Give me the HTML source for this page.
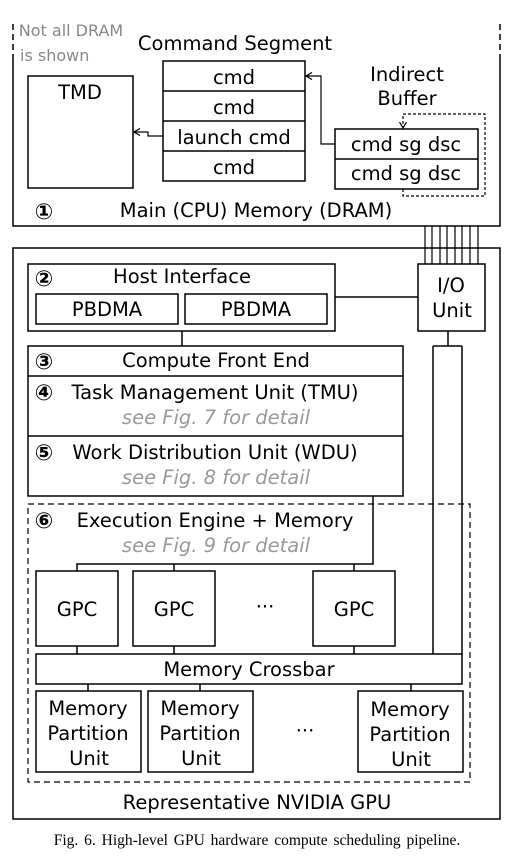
<!DOCTYPE html>
<html><head><style>body{margin:0;background:#fff}svg{display:block}</style></head><body>
<svg width="524" height="856" viewBox="0 0 524 856" xmlns="http://www.w3.org/2000/svg" font-family="DejaVu Sans, sans-serif" font-size="19.5" text-anchor="middle">
<defs><marker id="ar" markerWidth="8" markerHeight="8" refX="7" refY="4" orient="auto" markerUnits="userSpaceOnUse"><path d="M1,0.5 L7,4 L1,7.5" fill="none" stroke="#000" stroke-width="1.2"/></marker></defs>
<g fill="none" stroke="#000" stroke-width="1.5">
<path d="M13,24 V55" stroke-dasharray="6,4"/><path d="M500,24 V55" stroke-dasharray="6,4"/>
<path d="M13,55 V226 H500 V55"/>
<rect x="28" y="76" width="105" height="112"/>
<rect x="163" y="61" width="142" height="120"/>
<path d="M163,91 H305 M163,121 H305 M163,151 H305"/>
<rect x="335" y="129" width="143" height="60"/><path d="M335,159 H478"/>
<path d="M403,189 V196 H485 V114 H403 V128" stroke-dasharray="3,2" stroke-width="1.2" marker-end="url(#ar)"/>
<path d="M335,144 H321 V76 H306" stroke-width="1.2" marker-end="url(#ar)"/>
<path d="M163,136 H148 V132 H134" stroke-width="1.2" marker-end="url(#ar)"/>
<path d="M425,226V264M432,226V264M440,226V264M447,226V264M455,226V264M462,226V264M470,226V264M478,226V264" stroke-width="1.2"/>
<rect x="13" y="248" width="487" height="571"/>
<rect x="28" y="264" width="307" height="67"/>
<rect x="36" y="294" width="142" height="30"/><rect x="185" y="294" width="142" height="30"/>
<rect x="418" y="264" width="67" height="67"/>
<path d="M335,297 H418 M182,331 V346 M448,331 V346"/>
<rect x="28" y="346" width="375" height="150"/>
<path d="M28,376 H403 M28,436 H403"/>
<rect x="28" y="504" width="442" height="278" stroke-dasharray="6,4" stroke-width="1.2"/>
<path d="M373,496 V564 H77 V571 M174,564 V571 M354,564 V571"/>
<rect x="36" y="571" width="82" height="75"/><rect x="133" y="571" width="82" height="75"/><rect x="313" y="571" width="82" height="75"/>
<path d="M77,646 V654 M174,646 V654 M354,646 V654"/>
<path d="M433,346 V654 M462,346 V654 M433,346 H462"/>
<rect x="36" y="654" width="426" height="30"/>
<path d="M88,684 V691 M200,684 V691 M411,684 V691"/>
<rect x="36" y="691" width="105" height="81"/><rect x="148" y="691" width="105" height="81"/><rect x="358" y="691" width="105" height="81"/>
</g>
<g fill="#000">
<text x="71" y="36" fill="#888" font-size="16">Not all DRAM</text>
<text x="20" y="61" fill="#888" font-size="16" text-anchor="start">is shown</text>
<text x="235" y="50">Command Segment</text>
<text x="80" y="99">TMD</text>
<text x="234" y="84">cmd</text><text x="234" y="114">cmd</text><text x="234" y="144">launch cmd</text><text x="234" y="174">cmd</text>
<text x="407" y="81">Indirect</text><text x="407" y="105">Buffer</text>
<text x="406" y="151">cmd sg dsc</text><text x="406" y="180">cmd sg dsc</text>
<g font-size="22" font-weight="bold">
<text x="44" y="219">①</text><text x="44" y="286">②</text><text x="44" y="369">③</text><text x="44" y="400">④</text><text x="44" y="460">⑤</text><text x="44" y="528">⑥</text>
</g>
<text x="256" y="217">Main (CPU) Memory (DRAM)</text>
<text x="182" y="283">Host Interface</text>
<text x="107" y="316">PBDMA</text><text x="256" y="316">PBDMA</text>
<text x="451" y="292">I/O</text><text x="452" y="317">Unit</text>
<text x="216" y="367">Compute Front End</text>
<text x="215" y="399">Task Management Unit (TMU)</text>
<text x="216" y="424" fill="#999" font-style="italic">see Fig. 7 for detail</text>
<text x="215" y="459">Work Distribution Unit (WDU)</text>
<text x="216" y="484" fill="#999" font-style="italic">see Fig. 8 for detail</text>
<text x="215" y="527">Execution Engine + Memory</text>
<text x="216" y="552" fill="#999" font-style="italic">see Fig. 9 for detail</text>
<text x="77" y="616">GPC</text><text x="174" y="616">GPC</text><text x="354" y="616">GPC</text>
<text x="265" y="613">···</text>
<text x="249" y="676">Memory Crossbar</text>
<text x="88" y="715">Memory</text><text x="88" y="740">Partition</text><text x="89" y="765">Unit</text>
<text x="200" y="715">Memory</text><text x="200" y="740">Partition</text><text x="201" y="765">Unit</text>
<text x="410" y="716">Memory</text><text x="410" y="741">Partition</text><text x="411" y="766">Unit</text>
<text x="305" y="737">···</text>
<text x="257" y="809">Representative NVIDIA GPU</text>
<text x="257" y="845" font-family="Liberation Serif, serif" font-size="15.5" word-spacing="2">Fig. 6.  High-level GPU hardware compute scheduling pipeline.</text>
</g>
</svg>
</body></html>
